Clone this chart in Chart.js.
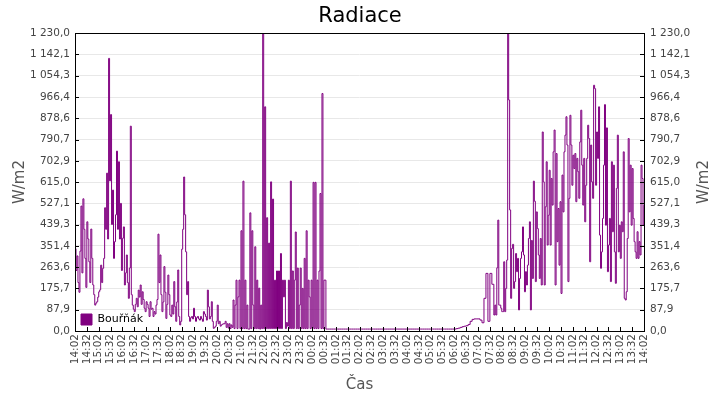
<!DOCTYPE html>
<html>
<head>
<meta charset="utf-8">
<script src="https://cdn.jsdelivr.net/npm/chart.js@4.4.1/dist/chart.umd.min.js"></script>
<style>
  body { margin: 0; background: #fff; }
</style>
</head>
<body>
<canvas id="radChart" width="720" height="400"></canvas>
<script>
// minutes counted from 14:02; each block has its own start and reading step
var afternoonStart = 0, afternoonStep = 2.5;
var afternoonVals = [340,250,310,200,160,330,516,240,546,420,300,180,451,380,286,200,421,300,190,150,
  107,115,121,140,162,170,272,200,259,300,509,420,652,380,1126,620,894,440,582,300,
  369,480,743,420,699,380,527,250,383,430,190,240,314,200,135,260,846,150,107,90,
  80,110,135,100,169,140,190,110,162,130,94,80,121,110,94,60,121,90,94,60,
  80,70,107,130,400,200,314,150,80,120,266,160,52,110,231,150,66,60,107,70,
  204,100,40,120,252,60,25,40,338,420,636,480,327,150,204,60,40,55,60,50,
  94,60,40,55,60,50,45,60,50,40,80,70,60,45,169,100,50,60,121,40,
  11,15,20,40,107,30,40,20,25,28,30];
var eveningStart = 380, eveningStep = 2.5;
var eveningVals = [40,15,30,12,30,10,25,15,128,10,
  107,210,10,141,210,10,414,10,619,10,
  210,10,107,8,8,488,10,414,107,10,
  348,10,210,10,177,8,107,10,1230,10,
  926,10,468,10,363,10,616,10,545,10,
  210,10,248,10,248,10,320,10,210,141,
  210,10,35,20,210,10,619,10,248,10,
  210,409,10,260,10,107,260,10,176,10,
  300,10,414,10,210,141,10,210,10,614,
  10,614,10,210,10,248,568,10,981,10,
  210];
var nightStart = 635, nightStep = 5;
var nightVals = [8,8,8,8,8,8,8,8,8,8,8,
  8,8,8,8,8,8,8,8,8,8,8,
  8,8,8,8,8,8,8,8,8,8,8,
  8,8,8,8,8,8,8,8,8,8,8,
  8,8,8,8,8,8,8,8,8,8,8,
  8,8,8,8,8,8,8,8,8,8,8,
  10,12,15,18,20,22,27,40,48,50,50,50,45,34,135,238,40,238,193];
var morningStart = 1060, morningStep = 2.5;
var morningVals = [66,107,66,261,458,107,107,94,80,80,
  286,80,176,293,1230,954,500,135,341,358,
  176,204,320,245,300,87,217,300,327,430,
  314,162,245,190,272,382,451,87,374,217,
  619,536,204,492,423,314,217,382,190,822,
  616,190,513,699,355,478,664,355,630,520,
  740,830,190,733,369,506,272,534,155,644,
  492,740,809,885,768,204,548,891,768,602,
  726,671,733,534,713,658,548,781,912,685,
  520,713,451,602,713,850,795,286,768,616,
  548,1015,1001,602,822,713,926,396,259,327,
  465,685,935,437,839,245,355,465,204,699,
  410,685,327,197,589,809,327,437,300,451,
  410,740,135,128,162,382,795,492,685,437,
  671,465,369,327,300,410,300,369,314,685,
  630,437,520];

var xTickLabels = ['14:02','14:32','15:02','15:32','16:02','16:32','17:02','17:32','18:02','18:32',
  '19:02','19:32','20:02','20:32','21:02','21:32','22:02','22:32','23:02','23:32',
  '00:02','00:32','01:02','01:32','02:02','02:32','03:02','03:32','04:02','04:32',
  '05:02','05:32','06:02','06:32','07:02','07:32','08:02','08:32','09:02','09:32',
  '10:02','10:32','11:02','11:32','12:02','12:32','13:02','13:32','14:02'];
var xTickStep = 30;
var yTickLabels = ['0,0','87,9','175,7','263,6','351,4','439,3','527,1','615,0',
  '702,9','790,7','878,6','966,4','1 054,3','1 142,1','1 230,0'];
var yMax = 1230;
var yTitle = 'W/m2';

function toPoints(start, step, vals) {
  return vals.map(function (v, i) { return { x: start + i * step, y: v }; });
}
var points = [].concat(
  toPoints(afternoonStart, afternoonStep, afternoonVals),
  toPoints(eveningStart, eveningStep, eveningVals),
  toPoints(nightStart, nightStep, nightVals),
  toPoints(morningStart, morningStep, morningVals)
);

var tickFont = { family: 'DejaVu Sans', size: 10.5 };
var titleFont = { family: 'DejaVu Sans', size: 15 };

function setYTicks(scale) {
  scale.ticks = yTickLabels.map(function (l, i) {
    return { value: i * yMax / (yTickLabels.length - 1) };
  });
}

// ticks drawn inside the plot plus the frame round it
var frameTicks = {
  id: 'frameTicks',
  afterLayout: function (chart) {
    // legend in the chart area is laid out from 0, move it down into the plot
    var lg = chart.legend;
    if (lg) {
      lg.top += chart.chartArea.top;
      lg.bottom += chart.chartArea.top;
    }
  },
  afterDraw: function (chart) {
    var ctx = chart.ctx, a = chart.chartArea, sx = chart.scales.x, sy = chart.scales.y;
    ctx.save();
    ctx.strokeStyle = '#000';
    ctx.lineWidth = 1;
    ctx.beginPath();
    sx.ticks.forEach(function (t, i) {
      var px = Math.round(sx.getPixelForTick(i)) + 0.5;
      ctx.moveTo(px, a.bottom);
      ctx.lineTo(px, a.bottom - 4);
    });
    sy.ticks.forEach(function (t, i) {
      var py = Math.round(sy.getPixelForTick(i)) + 0.5;
      ctx.moveTo(a.left, py);
      ctx.lineTo(a.left + 4, py);
      ctx.moveTo(a.right, py);
      ctx.lineTo(a.right - 4, py);
    });
    ctx.stroke();
    ctx.strokeRect(Math.round(a.left) + 0.5, Math.round(a.top) + 0.5,
      Math.round(a.right - a.left), Math.round(a.bottom - a.top));
    // right axis title reads upwards like the left one
    ctx.fillStyle = '#555';
    ctx.font = '15px "DejaVu Sans"';
    ctx.textAlign = 'center';
    ctx.textBaseline = 'middle';
    ctx.translate(704, (a.top + a.bottom) / 2);
    ctx.rotate(-Math.PI / 2);
    ctx.fillText(yTitle, 0, 0);
    ctx.restore();
  }
};

const radChart = new Chart(document.getElementById('radChart').getContext('2d'), {
  type: 'line',
  data: {
    datasets: [{
      label: 'Bouřňák',
      data: points,
      borderColor: '#800080',
      backgroundColor: '#800080',
      borderWidth: 1,
      pointRadius: 0,
      stepped: true,
      fill: false,
      yAxisID: 'y'
    }]
  },
  options: {
    responsive: false,
    animation: false,
    layout: { padding: 0 },
    plugins: {
      title: {
        display: true,
        text: 'Radiace',
        color: '#000',
        font: { family: 'DejaVu Sans', size: 21, weight: 'normal' },
        padding: { top: 4, bottom: 4 }
      },
      legend: {
        position: 'chartArea',
        align: 'end',
        labels: {
          boxWidth: 11,
          boxHeight: 11,
          color: '#000',
          padding: 6,
          font: { family: 'DejaVu Sans', size: 11 }
        }
      },
      tooltip: { enabled: false }
    },
    scales: {
      x: {
        type: 'linear',
        min: 0,
        max: (xTickLabels.length - 1) * xTickStep,
        grid: { display: false, drawTicks: false },
        border: { display: false },
        afterBuildTicks: function (scale) {
          scale.ticks = xTickLabels.map(function (l, i) { return { value: i * xTickStep }; });
        },
        afterFit: function (scale) { scale.height = 69; },
        ticks: {
          autoSkip: false,
          minRotation: 90,
          maxRotation: 90,
          padding: 3,
          color: '#444',
          font: tickFont,
          callback: function (v, i) { return xTickLabels[i]; }
        },
        title: { display: true, text: 'Čas', color: '#555', font: titleFont, padding: { top: 6, bottom: 6 } }
      },
      y: {
        type: 'linear',
        position: 'left',
        min: 0,
        max: yMax,
        grid: { color: '#e8e8e8', drawTicks: false },
        border: { display: false },
        afterBuildTicks: setYTicks,
        afterFit: function (scale) { scale.width = 75; },
        ticks: {
          padding: 5,
          color: '#444',
          font: tickFont,
          callback: function (v, i) { return yTickLabels[i]; }
        },
        title: { display: true, text: yTitle, color: '#555', font: titleFont, padding: { top: 11, bottom: 11 } }
      },
      y2: {
        type: 'linear',
        position: 'right',
        min: 0,
        max: yMax,
        grid: { drawOnChartArea: false, drawTicks: false },
        border: { display: false },
        afterBuildTicks: setYTicks,
        afterFit: function (scale) { scale.width = 76; },
        ticks: {
          padding: 6,
          color: '#444',
          font: tickFont,
          callback: function (v, i) { return yTickLabels[i]; }
        },
        title: { display: false }
      }
    }
  },
  plugins: [frameTicks]
});
</script>
</body>
</html>
